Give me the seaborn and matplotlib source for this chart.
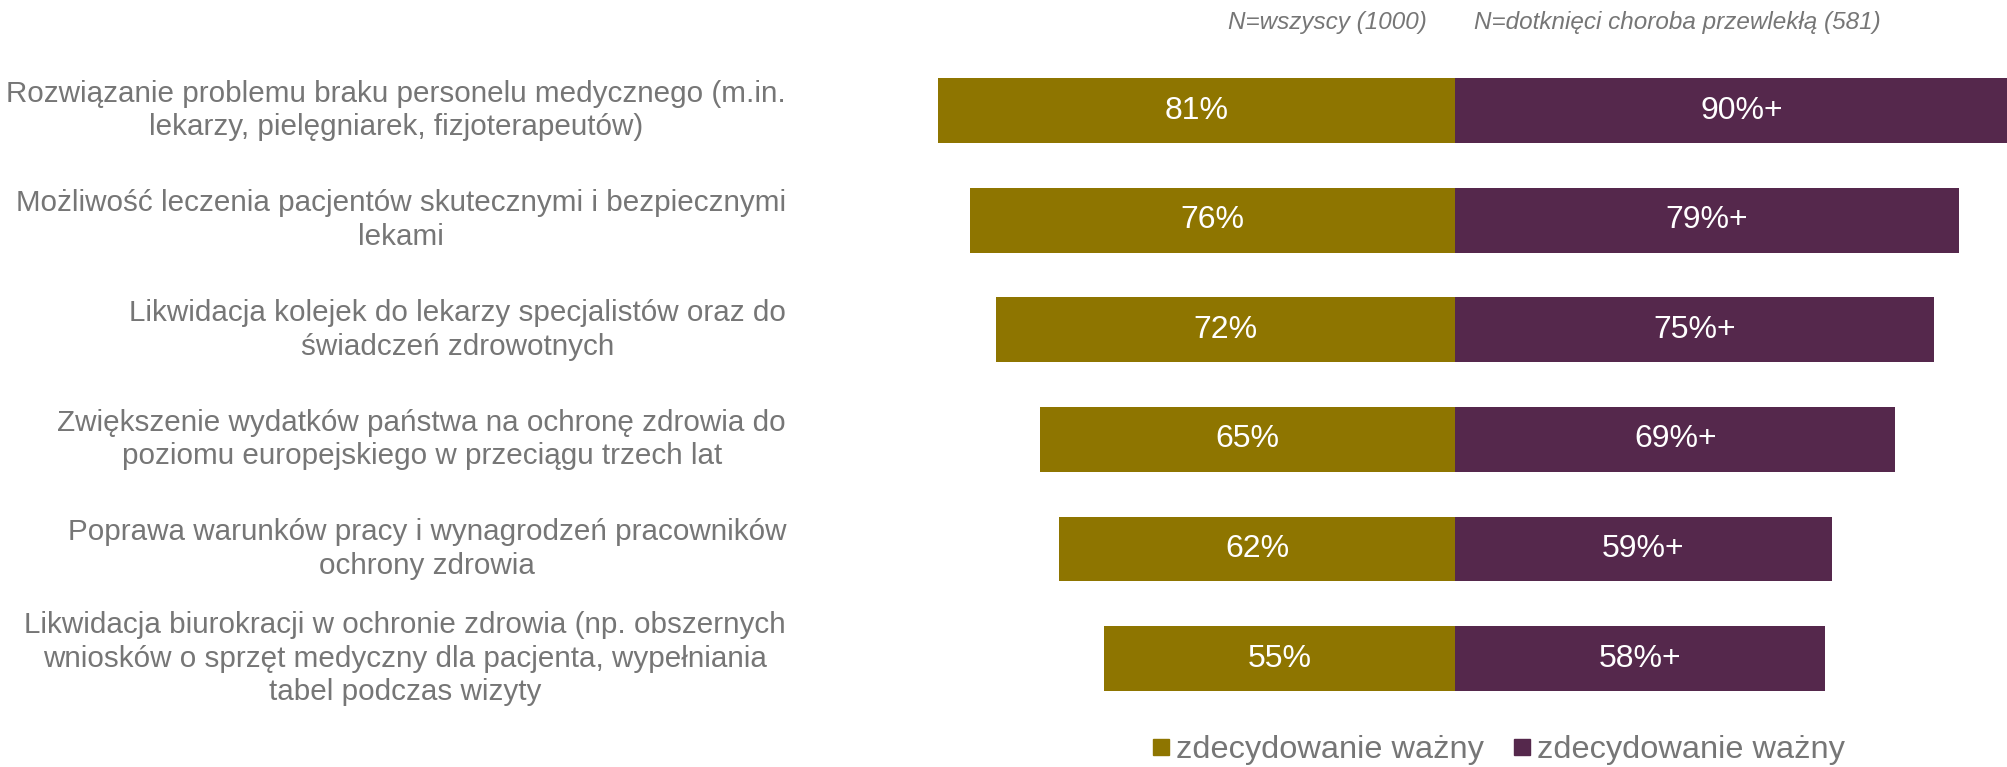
import numpy as np
import pandas as pd
import matplotlib
matplotlib.use("Agg")
import matplotlib.pyplot as plt
import matplotlib.transforms as mtransforms
from matplotlib.lines import Line2D
import seaborn as sns

categories = [
    "Rozwiązanie problemu braku personelu medycznego (m.in.\nlekarzy, pielęgniarek, fizjoterapeutów)",
    "Możliwość leczenia pacjentów skutecznymi i bezpiecznymi\nlekami",
    "Likwidacja kolejek do lekarzy specjalistów oraz do\nświadczeń zdrowotnych",
    "Zwiększenie wydatków państwa na ochronę zdrowia do\npoziomu europejskiego w przeciągu trzech lat",
    "Poprawa warunków pracy i wynagrodzeń pracowników\nochrony zdrowia",
    "Likwidacja biurokracji w ochronie zdrowia (np. obszernych\nwniosków o sprzęt medyczny dla pacjenta, wypełniania\ntabel podczas wizyty",
]
all_respondents = [81, 76, 72, 65, 62, 55]
chronically_ill = [90, 79, 75, 69, 59, 58]
group_headers = ["N=wszyscy (1000)", "N=dotknięci choroba przewlekłą (581)"]
legend_labels = ["zdecydowanie ważny", "zdecydowanie ważny"]

GOLD = "#8E7500"
PURPLE = "#55284C"
GREY = "#767676"

sns.set_theme(style="white")
plt.rcParams["font.family"] = ["Liberation Sans", "DejaVu Sans"]

df = pd.DataFrame({
    "cat": categories,
    "left": -np.array(all_respondents, dtype=float),
    "right": np.array(chronically_ill, dtype=float),
})

fig = plt.figure(figsize=(20.07, 7.67), dpi=100)
ax = fig.add_axes([0.45, 0.0, 0.55, 1.0])

sns.barplot(data=df, x="left", y="cat", orient="h", color=GOLD, saturation=1,
            width=0.59, ax=ax, linewidth=0)
sns.barplot(data=df, x="right", y="cat", orient="h", color=PURPLE, saturation=1,
            width=0.59, ax=ax, linewidth=0)

ax.set_xlim(-86.5, 86.5)
ax.set_ylim(5.99, -1.01)
ax.set_xlabel("")
ax.set_ylabel("")
ax.set_xticks([])
ax.set_yticks([])
for s in ax.spines.values():
    s.set_visible(False)

# value labels centred in each bar
for i, (a, b) in enumerate(zip(all_respondents, chronically_ill)):
    ax.text(-a / 2, i, f"{a}%", ha="center", va="center", color="white", fontsize=23)
    ax.text(b / 2, i, f"{b}%+", ha="center", va="center", color="white", fontsize=23)

# category labels, right aligned block with centred lines
trans = mtransforms.blended_transform_factory(fig.transFigure, ax.transData)
for i, c in enumerate(categories):
    ax.text(786 / 2007, i, c, transform=trans, ha="right", va="center",
            multialignment="center", color=GREY, fontsize=21.3, linespacing=1.25)

# group headers
fig.text(1327 / 2007, 1 - 22 / 767, group_headers[0], ha="center", va="center",
         style="italic", color=GREY, fontsize=17.5)
fig.text(1677 / 2007, 1 - 22 / 767, group_headers[1], ha="center", va="center",
         style="italic", color=GREY, fontsize=17.5)

handles = [Line2D([], [], marker="s", linestyle="none", markersize=12, color=GOLD),
           Line2D([], [], marker="s", linestyle="none", markersize=12, color=PURPLE)]
leg = fig.legend(handles, legend_labels, loc="center", bbox_to_anchor=(1498 / 2007, 1 - 750 / 767),
                 ncol=2, frameon=False, fontsize=23.4, handletextpad=0.15, columnspacing=0.9,
                 handlelength=0.6)
for t in leg.get_texts():
    t.set_color(GREY)

fig.savefig("out.png", dpi=100)
